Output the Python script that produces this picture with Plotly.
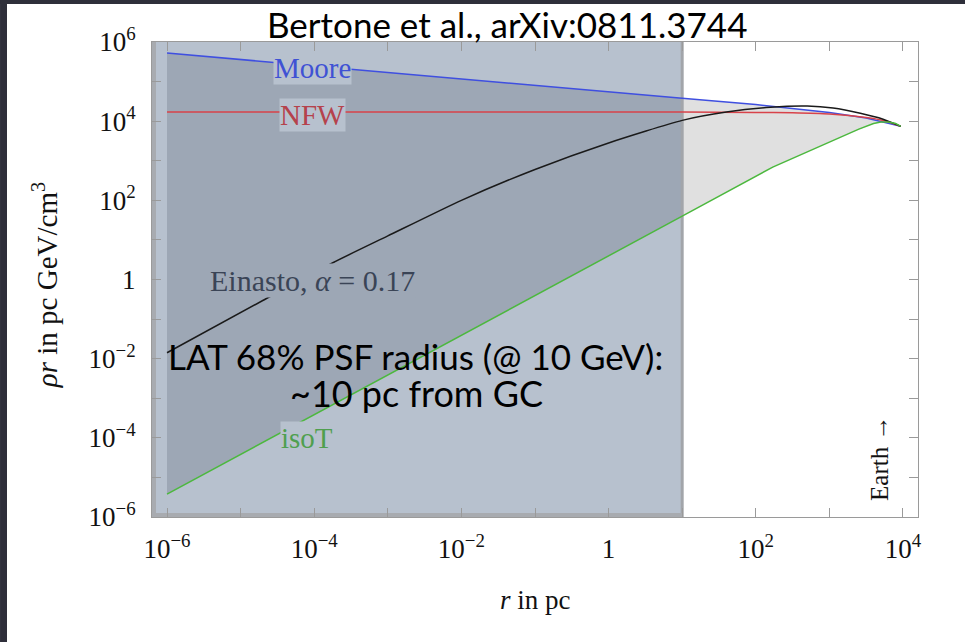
import numpy as np
import plotly.graph_objects as go

# ---------------- data (r in pc, rho*r in pc GeV/cm^3) -------------
moore_r = [1e-6, 1e-4, 1e-2, 1, 10, 100, 1000, 3162, 9333]
moore_v = [5.25e5, 2.45e5, 1.15e5, 5.5e4, 3.8e4, 2.63e4, 1.66e4, 1.2e4, 7.4e3]

nfw_r = [1e-6, 1e-2, 1, 10, 100, 316, 1000, 3162, 5623, 9333]
nfw_v = [1.70e4, 1.70e4, 1.70e4, 1.70e4, 1.66e4, 1.62e4, 1.51e4, 1.23e4, 1.02e4, 7.4e3]

einasto_r = [1e-6, 2.0e-5, 1.82e-4, 1e-3, 1e-2, 0.1, 1, 10, 39.8, 158, 501, 1122, 2630, 5370, 9333]
einasto_v = [0.0141, 0.295, 2.69, 12.6, 100, 603, 2818, 10470, 16980, 22390, 23990, 21380,
             15850, 11220, 7.4e3]

isot_r = [1e-6, 1e-4, 1e-2, 1, 10, 170, 1122, 2512, 3981, 5012, 6310, 7943, 9333]
isot_v = [3.8e-6, 3.8e-4, 0.038, 3.8, 39.8, 692, 3311, 6310, 8710, 9550, 9550, 8710, 7.4e3]

psf_radius_pc = 10          # LAT 68% PSF radius at 10 GeV

x_tick_exp = list(range(-6, 5))
y_tick_exp = list(range(-6, 7))
x_range = [-6.204, 4.204]
y_range = [-6, 6]


def tick_text(e):
    if e % 2:
        return ""
    if e == 0:
        return "1"
    return "10<sup>%s</sup>" % (str(e).replace("-", "\u2212"))


SERIF = "Liberation Serif, Times New Roman, serif"
SANS = "Lato, Open Sans, sans-serif"

OVERLAY = "#b7c1ce"
OVERLAY_FILL = "#9da7b5"
FILL = "#e0e0e0"

fig = go.Figure()

xmin = 10 ** x_range[0]
ylo, yhi = 10 ** y_range[0], 10 ** y_range[1]

# overlay (slide box covering r < 10 pc)
fig.add_trace(go.Scatter(x=[xmin, psf_radius_pc, psf_radius_pc, xmin, xmin],
                         y=[ylo, ylo, yhi, yhi, ylo], mode="lines", fill="toself",
                         fillcolor=OVERLAY, line=dict(width=0), hoverinfo="skip"))

# filled band between isoT and Moore
ir, iv = np.array(isot_r), np.array(isot_v)
mr, mv = np.array(moore_r), np.array(moore_v)
for mask_i, mask_m, col in [(ir <= psf_radius_pc, mr <= psf_radius_pc, OVERLAY_FILL),
                            (ir >= psf_radius_pc, mr >= psf_radius_pc, FILL)]:
    px = np.concatenate([ir[mask_i], mr[mask_m][::-1]])
    py = np.concatenate([iv[mask_i], mv[mask_m][::-1]])
    fig.add_trace(go.Scatter(x=px, y=py, mode="lines", fill="toself", fillcolor=col,
                             line=dict(width=0), hoverinfo="skip"))

# overlay border
fig.add_trace(go.Scatter(x=[psf_radius_pc, psf_radius_pc], y=[ylo, yhi], mode="lines",
                         line=dict(color="#a2a5aa", width=3), hoverinfo="skip"))
fig.add_trace(go.Scatter(x=[psf_radius_pc, xmin, xmin], y=[ylo, ylo, yhi], mode="lines",
                         line=dict(color="#a8abb0", width=8), hoverinfo="skip"))

# profiles
for rr, vv, col, shp in [(moore_r, moore_v, "#3f4fe0", "linear"),
                         (nfw_r, nfw_v, "#d8434a", "spline"),
                         (einasto_r, einasto_v, "#1a1a1a", "spline"),
                         (isot_r, isot_v, "#4cb83e", "linear")]:
    fig.add_trace(go.Scatter(x=rr, y=vv, mode="lines",
                             line=dict(color=col, width=1.5, shape=shp, smoothing=0.6),
                             hoverinfo="skip"))

ann = []
for txt, x, y, col, bg, sz in [("Moore", -4.03, 5.34, "#3f52d4", OVERLAY, 29),
                               ("NFW", -4.03, 4.15, "#b5424c", OVERLAY, 29),
                               ("Einasto, <i>α</i> = 0.17", -4.03, -0.03, "#3a4456",
                                OVERLAY_FILL, 30),
                               ("isoT", -4.10, -4.0, "#4f9f4f", OVERLAY, 29)]:
    ann.append(dict(x=x, y=y, xref="x", yref="y", text=txt, showarrow=False,
                    font=dict(family=SERIF, size=sz, color=col), bgcolor=bg,
                    borderpad=0, xanchor="center", yanchor="middle"))

ann.append(dict(x=3.69, y=-4.53, xref="x", yref="y", text="Earth →", showarrow=False,
                textangle=-90, font=dict(family=SERIF, size=25, color="#111"),
                xanchor="center", yanchor="middle"))

ann.append(dict(x=-2.63, y=-1.92, xref="x", yref="y",
                text="LAT 68% PSF radius (@ 10 GeV):", showarrow=False,
                font=dict(family=SANS, size=35, color="#000"),
                xanchor="center", yanchor="middle"))
ann.append(dict(x=-2.61, y=-2.86, xref="x", yref="y",
                text="~10 pc from GC", showarrow=False,
                font=dict(family=SANS, size=36, color="#000"),
                xanchor="center", yanchor="middle"))

ann.append(dict(x=0.4635, y=1.038, xref="paper", yref="paper",
                text="Bertone et al., arXiv:0811.3744", showarrow=False,
                font=dict(family=SANS, size=35, color="#000"),
                xanchor="center", yanchor="middle"))

# axis titles
ann.append(dict(x=-0.1397, y=0.488, xref="paper", yref="paper",
                text="<i>ρr</i> in pc GeV/cm<sup>3</sup>", showarrow=False, textangle=-90,
                font=dict(family=SERIF, size=29, color="#111"),
                xanchor="center", yanchor="middle"))
ann.append(dict(x=0.5, y=-0.175, xref="paper", yref="paper",
                text="<i>r</i> in pc", showarrow=False,
                font=dict(family=SERIF, size=27, color="#111"),
                xanchor="center", yanchor="middle"))

shapes = [
    dict(type="rect", xref="paper", yref="paper", x0=-0.1984, x1=-0.1893, y0=-0.27, y1=1.09,
         fillcolor="#2e2f3a", line=dict(width=0), layer="above"),
    dict(type="rect", xref="paper", yref="paper", x0=-0.1984, x1=1.062, y0=1.0802, y1=1.09,
         fillcolor="#2e2f3a", line=dict(width=0), layer="above"),
]

axis_common = dict(type="log", showgrid=False, zeroline=False, showline=True,
                   linecolor="#9a9a9a", linewidth=1, mirror="ticks", ticks="inside",
                   ticklen=9, tickcolor="#9a9a9a", tickwidth=1,
                   tickfont=dict(family=SERIF, size=27, color="#111"))

fig.update_layout(
    width=965, height=642,
    margin=dict(l=152, r=47, t=42, b=125),
    paper_bgcolor="white", plot_bgcolor="white",
    showlegend=False,
    annotations=ann, shapes=shapes,
    xaxis=dict(range=x_range, tickvals=[10 ** e for e in x_tick_exp],
               ticktext=[tick_text(e) for e in x_tick_exp],
               ticklabelstandoff=8, **axis_common),
    yaxis=dict(range=y_range, tickvals=[10 ** e for e in y_tick_exp],
               ticktext=[tick_text(e) for e in y_tick_exp],
               ticklabelstandoff=10, **axis_common),
)

fig.write_html("out.html", config={"displayModeBar": False},
               post_script="document.body.style.margin='0';"
                           "document.body.style.overflow='hidden';")
